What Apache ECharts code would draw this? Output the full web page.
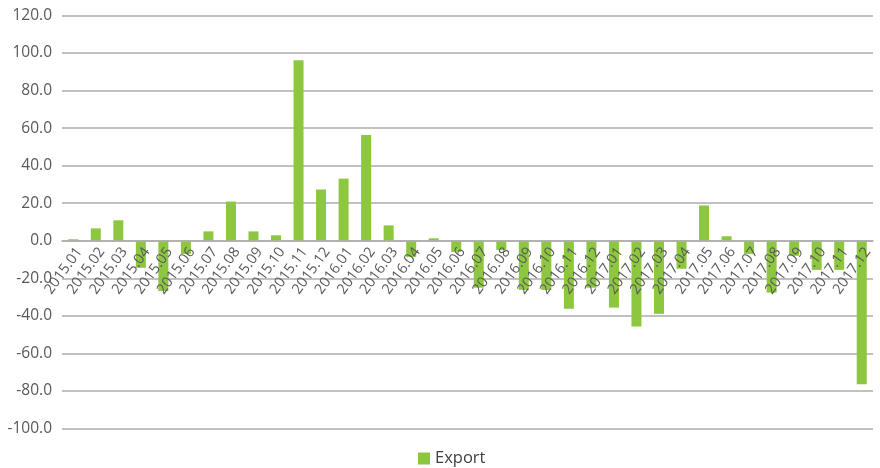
<!DOCTYPE html>
<html>
<head>
<meta charset="utf-8">
<script src="https://cdn.jsdelivr.net/npm/echarts@6/dist/echarts.min.js"></script>
<style>
  html, body { margin: 0; padding: 0; background: #ffffff; }
  #chart { width: 880px; height: 468px; }
</style>
</head>
<body>
<div id="chart"></div>
<script>
// Monthly export growth, 2015.01 – 2017.12
const months = [
  '2015.01','2015.02','2015.03','2015.04','2015.05','2015.06',
  '2015.07','2015.08','2015.09','2015.10','2015.11','2015.12',
  '2016.01','2016.02','2016.03','2016.04','2016.05','2016.06',
  '2016.07','2016.08','2016.09','2016.10','2016.11','2016.12',
  '2017.01','2017.02','2017.03','2017.04','2017.05','2017.06',
  '2017.07','2017.08','2017.09','2017.10','2017.11','2017.12'
];
const exportValues = [
  0.8, 6.6, 10.9, -14.4, -26.8, -7.0,
  5.0, 20.9, 5.0, 2.9, 96.2, 27.3,
  33.1, 56.4, 8.2, -8.6, 1.3, -5.9,
  -25.0, -5.0, -26.2, -26.2, -36.2, -25.0,
  -35.6, -45.7, -38.9, -14.9, 18.8, 2.4,
  -7.0, -27.6, -8.0, -15.5, -15.5, -76.4
];
const yMin = -100;
const yMax = 120;
const yStep = 20;

const W = 880, H = 468;
const gridTop = 15.5, gridBottom = 39.5;
const plotH = H - gridTop - gridBottom;
// distance from the bottom of the plot up to the zero line, so the
// category labels sit right under the zero baseline
const zeroLift = plotH * (0 - yMin) / (yMax - yMin);

const chart = echarts.init(document.getElementById('chart'), null, { renderer: 'canvas' });
const textColor = '#595959';
const lineColor = '#adadad';
const fontFamily = '"Open Sans", Lato, sans-serif';

chart.setOption({
  animation: false,
  backgroundColor: '#ffffff',
  textStyle: { fontFamily: fontFamily, color: textColor },
  grid: {
    left: 62, right: 7, top: gridTop, bottom: gridBottom,
    containLabel: false, outerBoundsMode: 'none'
  },
  legend: {
    data: ['Export'],
    left: 418,
    top: 450,
    padding: 0,
    itemWidth: 12,
    itemHeight: 12,
    itemGap: 6,
    icon: 'rect',
    textStyle: { fontFamily: fontFamily, fontSize: 16.5, color: '#404040' }
  },
  xAxis: {
    type: 'category',
    data: months,
    position: 'bottom',
    offset: -zeroLift,
    z: 5,
    axisLine: { onZero: false, lineStyle: { color: lineColor, width: 1.5 } },
    axisTick: { show: false },
    axisLabel: {
      rotate: 54,
      interval: 0,
      margin: 4,
      verticalAlign: 'top',
      fontSize: 14.5,
      color: textColor,
      fontFamily: fontFamily
    },
    splitLine: { show: false }
  },
  yAxis: {
    type: 'value',
    min: yMin,
    max: yMax,
    interval: yStep,
    axisLine: { show: false },
    axisTick: { show: false },
    axisLabel: {
      margin: 10,
      fontSize: 15.5,
      color: textColor,
      fontFamily: fontFamily,
      formatter: v => v.toFixed(1)
    },
    splitLine: { lineStyle: { color: lineColor, width: 1.5 } }
  },
  series: [{
    name: 'Export',
    type: 'bar',
    data: exportValues,
    barWidth: 10,
    itemStyle: { color: '#8dc63f' }
  }]
});
</script>
</body>
</html>
